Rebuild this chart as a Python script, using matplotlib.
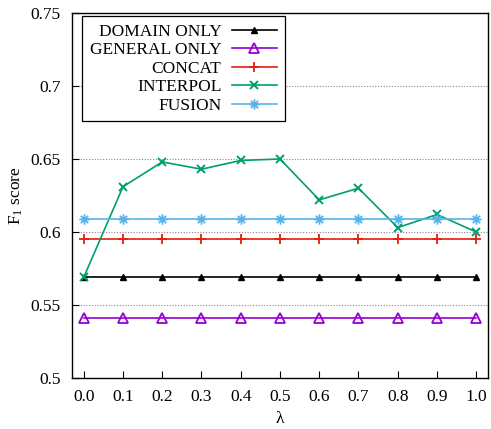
import numpy as np
import matplotlib
matplotlib.use("Agg")
import matplotlib.pyplot as plt
from matplotlib.path import Path

plt.rcParams['font.family'] = ['Liberation Serif', 'DejaVu Serif']
plt.rcParams['mathtext.fontset'] = 'custom'
plt.rcParams['mathtext.rm'] = 'Liberation Serif'
plt.rcParams['mathtext.it'] = 'Liberation Serif:italic'
plt.rcParams['font.size'] = 12.5

# data
lam = [0.0, 0.1, 0.2, 0.3, 0.4, 0.5, 0.6, 0.7, 0.8, 0.9, 1.0]
domain_only = [0.569] * 11
general_only = [0.541] * 11
concat = [0.595] * 11
interpol = [0.569, 0.631, 0.648, 0.643, 0.649, 0.650, 0.622, 0.630, 0.603, 0.612, 0.600]
fusion = [0.609] * 11
xticklabels = ["0.0", "0.1", "0.2", "0.3", "0.4", "0.5", "0.6", "0.7", "0.8", "0.9", "1.0"]
yticks = [0.5, 0.55, 0.6, 0.65, 0.7, 0.75]
yticklabels = ["0.5", "0.55", "0.6", "0.65", "0.7", "0.75"]

# asterisk marker like gnuplot pt 3 (+ and x together)
d = 0.7071
star = Path([(-1, 0), (1, 0), (0, -1), (0, 1), (-d, -d), (d, d), (-d, d), (d, -d)],
            [Path.MOVETO, Path.LINETO] * 4)

fig = plt.figure(figsize=(4.91, 4.29), dpi=100)
ax = fig.add_axes([0.1466, 0.1189, 0.8473, 0.8508])

lw = 1.2
ax.plot(lam, domain_only, color='black', lw=lw, marker='^', ms=4.5, label='DOMAIN ONLY')
ax.plot(lam, general_only, color='#9400D3', lw=lw, marker='^', ms=7.5, mfc='none', mew=1.3,
        label='GENERAL ONLY')
ax.plot(lam, concat, color='#E51E10', lw=lw, marker='+', ms=7.5, mew=1.3, label='CONCAT')
ax.plot(lam, interpol, color='#009E73', lw=lw, marker='x', ms=6, mew=1.4, label='INTERPOL')
ax.plot(lam, fusion, color='#56B4E9', lw=lw, marker=star, ms=7.5, mew=1.3, label='FUSION')

ax.set_xlim(-0.03, 1.03)
ax.set_ylim(0.5, 0.75)
ax.set_xticks(lam)
ax.set_xticklabels(xticklabels)
ax.set_yticks(yticks)
ax.set_yticklabels(yticklabels)
ax.tick_params(direction='in', length=5, width=0.8, pad=8)
ax.grid(axis='y', linestyle=(0, (1, 1.5)), color='#888888', lw=0.8)
ax.set_axisbelow(True)
for s in ax.spines.values():
    s.set_linewidth(1.0)

ax.set_xlabel('λ', labelpad=4)
ax.set_ylabel('F$_1$ score', labelpad=4)

leg = ax.legend(loc='upper left', bbox_to_anchor=(82 / 491, 1 - 16 / 429),
                bbox_transform=fig.transFigure, markerfirst=False, fancybox=False,
                edgecolor='black', framealpha=1, handlelength=2.6, labelspacing=0.13,
                borderpad=0.45, handletextpad=0.6, borderaxespad=0)
leg.get_frame().set_linewidth(0.9)

fig.savefig('out.png', dpi=100)
